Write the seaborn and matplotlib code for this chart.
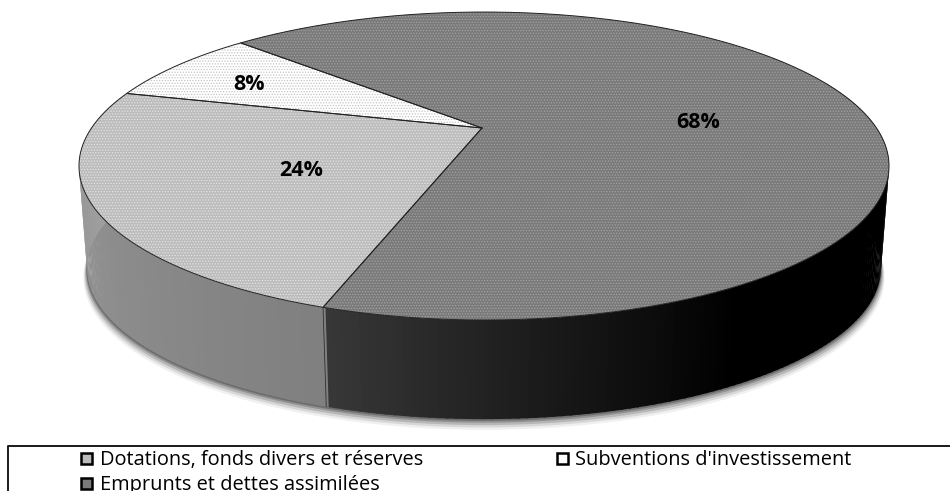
import numpy as np
import matplotlib
matplotlib.use("Agg")
import matplotlib.pyplot as plt
import seaborn as sns

# Funding structure shown as a tilted, thick pie
categories = ["Emprunts et dettes assimilées",
              "Dotations, fonds divers et réserves",
              "Subventions d'investissement"]
shares = [68, 24, 8]
share_labels = ["68%", "24%", "8%"]

top_colours = ["#7a7a7a", "#bcbcbc", "#ffffff"]
grain_colours = ["#a2a2a2", "#e4e4e4", "#c4c4c4"]

sns.set_theme(style="white")
plt.rcParams["font.family"] = ["Open Sans", "DejaVu Sans"]
plt.rcParams["hatch.linewidth"] = 0.6

fig = plt.figure(figsize=(9.5, 4.91), dpi=100)
ax = fig.add_axes([0, 0, 1, 1])
ax.set_xlim(0, 950)
ax.set_ylim(491, 0)
ax.axis("off")

START = 313.5        # clockwise from twelve o'clock
CX, CY = 484, 128
A, B, K = 392.5, 144.6, 0.2468
DROP, SHRINK = 103, 0.98


def project(deg, r=1.0, drop=0.0, scale=1.0):
    """Map a clockwise angle on the disc to canvas coordinates with perspective."""
    t = np.radians(deg)
    x, y = r * np.sin(t), r * np.cos(t)
    w = 1 + K * y
    return CX + scale * A * x / w, CY + drop - scale * B * y / w


def side_grey(deg):
    d = np.mod(deg, 360)
    if d <= 198.3:
        return np.interp(d, [80, 150, 175, 198.3], [0, 0.0, 0.11, 0.22])
    return np.interp(d, [198.3, 240, 290], [0.50, 0.56, 0.66])


# Soft shadow below the rim
front = np.linspace(70, 290, 220)
for grow, alpha in [(9, 0.08), (7, 0.14), (5, 0.22), (3, 0.32), (1.5, 0.45)]:
    xs, ys = project(front, drop=DROP + grow, scale=SHRINK + grow * 0.001)
    xt, yt = project(front[::-1], drop=DROP - 10, scale=SHRINK)
    ax.fill(np.r_[xs, xt], np.r_[ys, yt], color="#444444", alpha=alpha, lw=0, zorder=1)

# Rim, built from narrow strips so the shade can vary around the disc
angles = np.arange(70, 292, 1.0)
for a0 in angles:
    seg = np.array([a0, a0 + 1.3])
    xu, yu = project(seg)
    xl, yl = project(seg[::-1], drop=DROP, scale=SHRINK)
    g = side_grey(a0 + 0.5)
    ax.fill(np.r_[xu, xl], np.r_[yu, yl], color=(g, g, g), lw=0, zorder=2)

# Vertical edge between the two visible rim segments
split = START + shares[0] * 3.6 - 360
x0, y0 = project(split)
x1, y1 = project(split, drop=DROP, scale=SHRINK)
ax.plot([x0, x1], [y0, y1], color="#303030", lw=0.6, zorder=3)

# Top face, with a fine stipple like a printed halftone
edges = START + np.cumsum([0] + shares) * 3.6
for i, share in enumerate(shares):
    t = np.linspace(edges[i], edges[i + 1], max(int(share * 6), 12))
    xs, ys = project(t)
    px, py = np.r_[CX - 2, xs], np.r_[CY, ys]
    ax.fill(px, py, facecolor=top_colours[i], edgecolor=grain_colours[i],
            hatch="......", lw=0, zorder=4)
    ax.plot(np.r_[px, px[0]], np.r_[py, py[0]], color="#222222", lw=0.7, zorder=5)

# Percent labels
label_xy = [(698, 122), (301, 170), (249, 84)]
for text, (lx, ly) in zip(share_labels, label_xy):
    ax.text(lx, ly, text, ha="center", va="center", fontsize=15.5,
            fontweight="bold", color="black", zorder=6)

# Legend frame, open at the right and bottom
ax.plot([950, 8, 8], [446, 446, 491], color="#1a1a1a", lw=1.4, zorder=6)

legend_rows = [(1, 80, 100, 465), (2, 556, 575, 465), (0, 80, 100, 490)]
for idx, bx, tx, base in legend_rows:
    ax.add_patch(plt.Rectangle((bx + 1, base - 12), 11, 11, facecolor=top_colours[idx],
                               edgecolor="black", lw=1.8, zorder=6))
    ax.text(tx, base, categories[idx], ha="left", va="baseline", fontsize=14.4,
            color="black", zorder=6)

fig.savefig("out.png", dpi=100)
